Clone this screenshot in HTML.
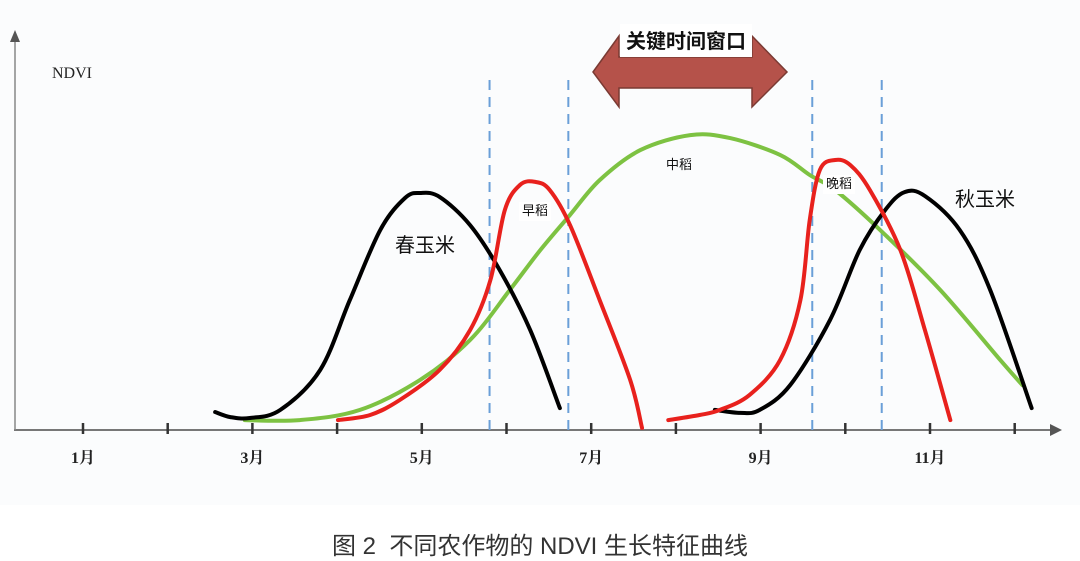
<!DOCTYPE html>
<html><head><meta charset="utf-8">
<style>
html,body{margin:0;padding:0;background:#fff;}
body{width:1080px;height:561px;overflow:hidden;position:relative;font-family:"Liberation Serif","Noto Serif CJK SC","Noto Sans CJK SC",serif;}
#cap{position:absolute;left:0;width:1080px;top:526px;text-align:center;font-family:"Liberation Sans","Noto Sans CJK SC",sans-serif;font-size:24px;color:#333;}
</style></head>
<body>
<svg id="chart" width="1080" height="510" viewBox="0 0 1080 510" style="position:absolute;left:0;top:0">
<rect x="0" y="0" width="1080" height="505" fill="#fbfcfd"/>
<g id="axes"></g>
<g id="guides"></g>
<g id="curves"></g>
<g id="labels"></g>
</svg>
<div id="cap">图 2&nbsp;&nbsp;不同农作物的 NDVI 生长特征曲线</div>
<script>
const monthTicks=[1,2,3,4,5,6,7,8,9,10,11,12];
const monthLabels=["1月","","3月","","5月","","7月","","9月","","11月",""];
const windowLines=[5.8,6.73,9.61,10.43];
const springCornM=[2.56,2.74,2.97,3.33,3.8,4.15,4.51,4.8,4.98,5.21,5.57,5.92,6.28,6.63];
const springCornV=[0.06,0.043,0.04,0.067,0.2,0.433,0.667,0.773,0.79,0.777,0.683,0.533,0.333,0.073];
const earlyRiceM=[4.01,4.39,4.74,5.21,5.57,5.81,5.98,6.16,6.34,6.51,6.75,7.1,7.46,7.6];
const earlyRiceV=[0.033,0.05,0.1,0.2,0.333,0.5,0.733,0.817,0.827,0.8,0.683,0.433,0.167,0.007];
const midRiceM=[2.91,3.56,4.27,4.98,5.57,6.04,6.4,6.75,7.1,7.58,8.17,8.64,9.23,9.58,9.88,10.41,11.12,11.83,12.09];
const midRiceV=[0.033,0.033,0.067,0.167,0.3,0.467,0.6,0.717,0.833,0.933,0.983,0.973,0.917,0.85,0.8,0.667,0.467,0.233,0.15];
const lateRiceM=[7.91,8.28,8.52,8.87,9.23,9.47,9.58,9.7,9.88,10.06,10.29,10.65,10.94,11.24];
const lateRiceV=[0.033,0.05,0.067,0.117,0.233,0.433,0.7,0.867,0.9,0.883,0.8,0.6,0.333,0.033];
const autumnCornM=[8.46,8.76,8.99,9.35,9.82,10.17,10.47,10.7,10.94,11.35,11.71,12.2];
const autumnCornV=[0.067,0.057,0.067,0.15,0.367,0.6,0.733,0.793,0.78,0.667,0.467,0.073];

const X0=83,DX=84.7,Y0=430,YS=300;
const xs=m=>X0+(m-1)*DX;
const ys=v=>Y0-v*YS;
const NS="http://www.w3.org/2000/svg";
function mk(tag,attrs,parent){const e=document.createElementNS(NS,tag);for(const k in attrs)e.setAttribute(k,attrs[k]);parent.appendChild(e);return e;}
const axes=document.getElementById('axes'),guides=document.getElementById('guides'),curves=document.getElementById('curves'),labels=document.getElementById('labels');

let e=mk('line',{x1:14,y1:430,x2:1052,y2:430,stroke:'#777','stroke-width':2},axes);

e=mk('polygon',{points:'1062,430 1050,424 1050,436',fill:'#555'},axes);

e=mk('line',{x1:15,y1:430,x2:15,y2:40,stroke:'#888','stroke-width':1.5},axes);

e=mk('polygon',{points:'15,30 10,42 20,42',fill:'#555'},axes);

e=mk('text',{x:52,y:78,'font-size':16,fill:'#222','font-family':'Liberation Serif, serif'},axes);e.textContent='NDVI';

monthTicks.forEach((m,i)=>{
  const t=mk('line',{x1:xs(m),y1:423,x2:xs(m),y2:434,stroke:'#333','stroke-width':2.5},axes);
  
  
  if(monthLabels[i]){
    const l=mk('text',{x:xs(m),y:463,'text-anchor':'middle','font-size':16,'font-weight':'bold',fill:'#222'},axes);
    l.textContent=monthLabels[i];
    
    
  }
});
windowLines.forEach(m=>{
  const g=mk('line',{x1:xs(m),y1:80,x2:xs(m),y2:430,stroke:'#6a9fd8','stroke-width':2,'stroke-dasharray':'10,7'},guides);
  
  
});
function smooth(M,V){
  const p=M.map((m,i)=>[xs(m),ys(V[i])]);
  let d='M'+p[0][0]+','+p[0][1];
  for(let i=0;i<p.length-1;i++){
    const a=p[Math.max(0,i-1)],b=p[i],c=p[i+1],f=p[Math.min(p.length-1,i+2)];
    const c1=[b[0]+(c[0]-a[0])/6,b[1]+(c[1]-a[1])/6],c2=[c[0]-(f[0]-b[0])/6,c[1]-(f[1]-b[1])/6];
    d+=' C'+c1+' '+c2+' '+c;
  }
  return d;
}
const series=[[midRiceM,midRiceV,'#7dc242','mid-rice-curve'],[springCornM,springCornV,'#000','spring-corn-curve'],[earlyRiceM,earlyRiceV,'#e8211d','early-rice-curve'],[autumnCornM,autumnCornV,'#000','autumn-corn-curve'],[lateRiceM,lateRiceV,'#e8211d','late-rice-curve']];
series.forEach(s=>{
  const p=mk('path',{d:smooth(s[0],s[1]),fill:'none',stroke:s[2],'stroke-width':4,'stroke-linecap':'round'},curves);
  
  
});
e=mk('polygon',{points:'593,72 619,36 619,57 752,57 752,36 787,72 752,107 752,88 619,88 619,107',fill:'#b5524a',stroke:'#7a3a33','stroke-width':1.5},labels);

e=mk('rect',{x:620,y:24,width:132,height:33,fill:'#fff'},labels);

function lab(t,x,y,fs,name,bg){
  if(bg){const r=mk('rect',{x:x-fs*t.length/2-3,y:y-fs,width:fs*t.length+6,height:fs+6,fill:'#fff'},labels);
    
    }
  const l=mk('text',{x:x,y:y,'text-anchor':'middle','font-size':fs,fill:'#111','font-family':'Liberation Sans, Noto Sans CJK SC, sans-serif'},labels);
  l.textContent=t;
  
  
  return l;
}
lab('关键时间窗口',686,48,20,'key-window-label',false).setAttribute('font-weight','bold');
lab('春玉米',425,252,20,'spring-corn-label',false);
lab('秋玉米',985,206,20,'autumn-corn-label',false);
lab('早稻',535,215,13,'early-rice-label',true);
lab('中稻',679,169,13,'mid-rice-label',false);
lab('晚稻',839,188,13,'late-rice-label',true);
</script>
</body></html>
